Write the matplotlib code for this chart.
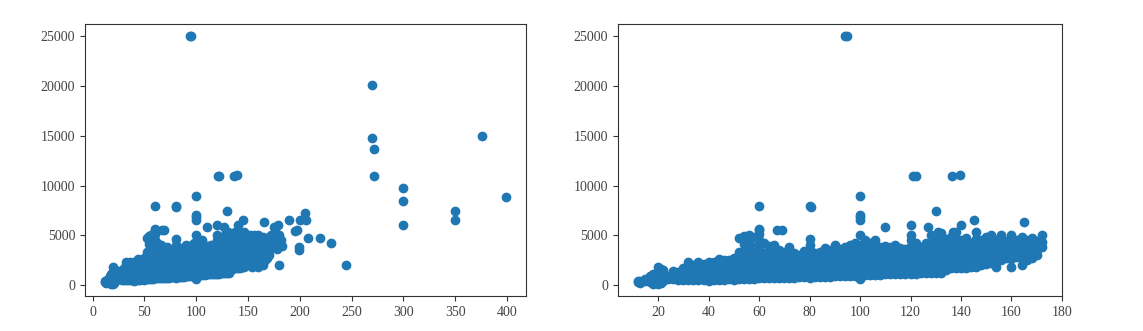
import matplotlib
matplotlib.use("Agg")
import matplotlib.pyplot as plt
import numpy as np

# main body of the cloud: (area, [prices at that area])
dense = [
    (12, [300, 400]),
    (13, [250, 450]),
    (15, [400, 600]),
    (17, [300, 700, 900]),
    (18, [150, 500, 1100]),
    (20, [150, 500, 900, 1300, 1800]),
    (21, [250, 700, 1600]),
    (22, [400, 1000, 1500]),
    (24, [600, 900]),
    (26, [600, 1000, 1400]),
    (28, [550, 900, 1300]),
    (30, [500, 900, 1300, 1700]),
    (32, [500, 900, 1400, 1900, 2300]),
    (34, [550, 1000, 1500, 2000]),
    (36, [500, 900, 1400, 1900, 2300]),
    (38, [550, 1000, 1500, 2100]),
    (40, [400, 900, 1400, 1900, 2300]),
    (42, [500, 1000, 1500, 2000, 2300]),
    (44, [550, 1000, 1500, 2100, 2600]),
    (46, [500, 1000, 1500, 2000, 2500]),
    (48, [600, 1100, 1600, 2100, 2500]),
    (50, [500, 1000, 1500, 2000, 2500, 2700]),
    (52, [600, 1100, 1600, 2100, 2700, 3300, 4700]),
    (54, [650, 1100, 1600, 2200, 2800, 3400, 4100, 4900]),
    (56, [600, 1100, 1700, 2300, 2900, 3500, 4300, 5000]),
    (58, [650, 1200, 1800, 2400, 3000, 3800, 4800]),
    (60, [700, 1200, 1800, 2400, 3100, 3800, 4500, 5100, 5500]),
    (62, [700, 1300, 1900, 2500, 3200, 4200]),
    (64, [700, 1300, 1900, 2600, 3300, 3900]),
    (66, [750, 1300, 2000, 2700, 3400, 4000]),
    (68, [700, 1300, 1900, 2600, 3500]),
    (70, [750, 1300, 2000, 2700, 3300]),
    (72, [700, 1300, 2000, 2700, 3200, 3800]),
    (74, [750, 1400, 2000, 2700, 3200]),
    (76, [800, 1400, 2100, 2600, 3000]),
    (78, [800, 1400, 2100, 2800, 3400]),
    (80, [700, 1300, 2000, 2700, 3500, 4000, 4600]),
    (82, [800, 1400, 2000, 2700, 3200]),
    (84, [800, 1400, 2100, 2800, 3300]),
    (86, [850, 1500, 2200, 2900, 3700]),
    (88, [800, 1500, 2100, 2800, 3500]),
    (90, [900, 1500, 2200, 2900, 3500, 4000]),
    (92, [900, 1500, 2200, 2900, 3600]),
    (94, [900, 1600, 2300, 3000, 3800]),
    (96, [950, 1600, 2300, 3000, 3600, 4000]),
    (98, [900, 1600, 2300, 3000, 3700, 4200]),
    (100, [650, 1200, 1900, 2600, 3300, 4000, 5000]),
    (102, [1000, 1700, 2400, 3100, 3800, 4500]),
    (104, [1000, 1700, 2400, 3100, 3700, 4200]),
    (106, [1050, 1700, 2400, 3100, 3800, 4500]),
    (108, [1000, 1700, 2400, 3100, 3800]),
    (110, [1100, 1800, 2500, 3200, 3900]),
    (112, [1100, 1800, 2500, 3200, 3800]),
    (114, [1100, 1800, 2500, 3300, 4000]),
    (116, [1150, 1800, 2500, 3100, 3700]),
    (118, [1100, 1800, 2500, 3100, 3600]),
    (120, [1100, 1800, 2500, 3200, 3900, 4500, 5000]),
    (122, [1150, 1900, 2600, 3300, 4200]),
    (124, [1200, 1900, 2600, 3200, 3800]),
    (126, [1200, 1900, 2600, 3300, 4200]),
    (128, [1200, 1900, 2700, 3400, 4100, 5000]),
    (130, [1200, 1900, 2700, 3400, 4000, 4500]),
    (132, [1200, 2000, 2700, 3500, 4300, 5200]),
    (134, [1500, 2200, 2900, 3600, 4200, 4600]),
    (136, [1700, 2300, 3000, 3700, 4300, 4800]),
    (138, [1700, 2400, 3100, 3800, 4500, 5300]),
    (140, [1700, 2400, 3000, 3700, 4500]),
    (142, [1700, 2400, 3100, 3800, 4700]),
    (144, [1800, 2500, 3200, 3700, 4200]),
    (146, [1800, 2500, 3200, 3900, 4600, 5300]),
    (148, [2000, 2600, 3300, 3900, 4500]),
    (150, [2100, 2700, 3300, 4000, 4800]),
    (152, [2200, 2800, 3500, 4300, 5000]),
    (154, [1800, 2600, 3300, 3900, 4500]),
    (156, [2500, 3100, 3800, 4400, 5000]),
    (158, [2700, 3300, 3900, 4400]),
    (160, [1800, 2600, 3200, 3900, 4500, 5000]),
    (162, [2800, 3400, 4000, 4500]),
    (164, [2000, 2800, 3400, 4000, 4800]),
    (166, [2500, 3200, 3800, 4500]),
    (168, [2700, 3300, 3900, 4700]),
    (170, [3000, 3500, 4000, 4400]),
    (172, [3800, 4300, 5000]),
]

# isolated high prices inside the area range of both panels
spike_area = [94, 95, 121, 122, 136.5, 139.5, 100, 60, 80, 80.5, 100, 100,
              100, 130, 145, 165, 110, 120, 140, 127, 131, 137, 60, 67, 69]
spike_price = [25000, 25000, 11000, 11000, 11000, 11100, 9000, 8000, 8000,
               7900, 7000, 6800, 6500, 7500, 6500, 6300, 5800, 6000, 6000,
               5800, 5300, 5300, 5600, 5500, 5500]

# large flats, only in the left (unfiltered) panel
wide_area = [175, 177, 176, 180, 182, 178, 183, 179, 179.5, 190, 195, 197,
             199.5, 199.5, 200.5, 205.5, 205, 207.5, 219, 230, 245, 269.5,
             269.5, 272, 272, 300, 300, 300, 350, 350, 376, 399]
wide_price = [5800, 5200, 4400, 5000, 4500, 3600, 3900, 6000, 2000, 6500,
              5450, 5500, 3550, 3800, 6500, 6500, 7250, 4700, 4700, 4270,
              2000, 20150, 14750, 13650, 11000, 9800, 8500, 6000, 7500, 6500,
              15000, 8900]

AREA_CUT = 173

area, price = [], []
for a, ps in dense:
    area += [a] * len(ps)
    price += ps
area = np.array(area + spike_area + wide_area, dtype=float)
price = np.array(price + spike_price + wide_price, dtype=float)

plt.rcParams["font.family"] = ["Liberation Serif", "DejaVu Serif"]
plt.rcParams["font.size"] = 10

fig = plt.figure(figsize=(11.43, 3.31), dpi=100)
ax1 = fig.add_axes([0.0744, 0.1057, 0.3858, 0.8218])
ax2 = fig.add_axes([0.5404, 0.1057, 0.3887, 0.8218])

ax1.scatter(area, price)
keep = area < AREA_CUT
ax2.scatter(area[keep], price[keep])

for ax in (ax1, ax2):
    for s in ax.spines.values():
        s.set_color("#333333")
    ax.tick_params(colors="#333333", labelcolor="#444444")

fig.savefig("out.png", dpi=100, facecolor="white")
plt.close(fig)
